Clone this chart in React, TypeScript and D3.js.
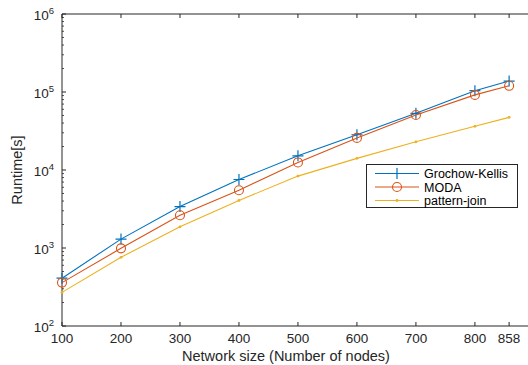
import * as d3 from 'd3'

const sizes = [100, 200, 300, 400, 500, 600, 700, 800, 858]
const grochowKellis = [410, 1300, 3400, 7550, 15200, 28300, 53300, 104000, 138000]
const moda = [360, 990, 2630, 5500, 12500, 25800, 50700, 91800, 120000]
const patternJoin = [270, 760, 1870, 4070, 8350, 14100, 23000, 36300, 47300]
const xTicks = [100, 200, 300, 400, 500, 600, 700, 800, 858]
const yExponents = [2, 3, 4, 5, 6]

const series = [
  { name: 'Grochow-Kellis', values: grochowKellis, color: '#0072BD', marker: 'plus' },
  { name: 'MODA', values: moda, color: '#D95319', marker: 'circle' },
  { name: 'pattern-join', values: patternJoin, color: '#EDB120', marker: 'dot' },
]

const axisColor = '#262626'
const font = 'Liberation Sans, Arial, Helvetica, sans-serif'

function Marker({ kind, x, y, color }: { kind: string; x: number; y: number; color: string }) {
  if (kind === 'plus')
    return <path d={`M${x - 5.5},${y}H${x + 5.5}M${x},${y - 5.5}V${y + 5.5}`} stroke={color} strokeWidth={1.2} />
  if (kind === 'circle') return <circle cx={x} cy={y} r={4.5} fill="none" stroke={color} strokeWidth={1.1} />
  return <circle cx={x} cy={y} r={1.4} fill={color} />
}

export default function App() {
  const width = 528
  const height = 365
  const left = 62
  const top = 14
  const bottom = 326

  const x = d3.scaleLinear().domain([100, 890]).range([left, 528])
  const y = d3.scaleLog().domain([100, 1e6]).range([bottom, top])

  const minor: number[] = []
  for (let e = 2; e < 6; e++) for (let m = 2; m <= 9; m++) minor.push(m * 10 ** e)

  const line = d3
    .line<number>()
    .x((_, i) => x(sizes[i]))
    .y((v) => y(v))

  return (
    <svg width={width} height={height} style={{ position: 'absolute', left: 0, top: 0, background: '#fff' }} fontFamily={font}>
      {/* axes frame (right side cropped off) */}
      <line x1={left} x2={width} y1={top} y2={top} stroke={axisColor} strokeWidth={1} />
      <line x1={left} x2={width} y1={bottom} y2={bottom} stroke={axisColor} strokeWidth={1} />
      <line x1={left} x2={left} y1={top} y2={bottom} stroke={axisColor} strokeWidth={1} />

      {xTicks.map((t) => (
        <g key={t}>
          <line x1={x(t)} x2={x(t)} y1={bottom} y2={bottom - 4} stroke={axisColor} />
          <line x1={x(t)} x2={x(t)} y1={top} y2={top + 4} stroke={axisColor} />
          <text x={x(t)} y={bottom + 17} textAnchor="middle" fontSize={13.5} fill={axisColor}>
            {t}
          </text>
        </g>
      ))}

      {yExponents.map((e) => (
        <g key={e}>
          <line x1={left} x2={left + 4} y1={y(10 ** e)} y2={y(10 ** e)} stroke={axisColor} />
          <text x={left - 8} y={y(10 ** e) + 6} textAnchor="end" fontSize={13.5} fill={axisColor}>
            10
            <tspan dy={-6} fontSize={9.5}>
              {e}
            </tspan>
          </text>
        </g>
      ))}
      {minor.map((m) => (
        <line key={m} x1={left} x2={left + 2} y1={y(m)} y2={y(m)} stroke={axisColor} strokeWidth={0.8} />
      ))}

      {series.map((s) => (
        <g key={s.name}>
          <path d={line(s.values) ?? ''} fill="none" stroke={s.color} strokeWidth={1.1} />
          {s.values.map((v, i) => (
            <Marker key={i} kind={s.marker} x={x(sizes[i])} y={y(v)} color={s.color} />
          ))}
        </g>
      ))}

      <text x={(left + 510) / 2} y={361} textAnchor="middle" fontSize={14.5} fill={axisColor}>
        Network size (Number of nodes)
      </text>
      <text transform={`translate(22,${(top + bottom) / 2}) rotate(-90)`} textAnchor="middle" fontSize={14.5} fill={axisColor}>
        Runtime[s]
      </text>

      <g>
        <rect x={366.5} y={164.5} width={151} height={43} fill="#fff" stroke={axisColor} strokeWidth={1} />
        {series.map((s, i) => {
          const ly = 173.5 + i * 13.5
          return (
            <g key={s.name}>
              <line x1={375} x2={419} y1={ly} y2={ly} stroke={s.color} strokeWidth={1.1} />
              <Marker kind={s.marker} x={397} y={ly} color={s.color} />
              <text x={424} y={ly + 4.5} fontSize={12.5} fill="#000">
                {s.name}
              </text>
            </g>
          )
        })}
      </g>
    </svg>
  )
}
